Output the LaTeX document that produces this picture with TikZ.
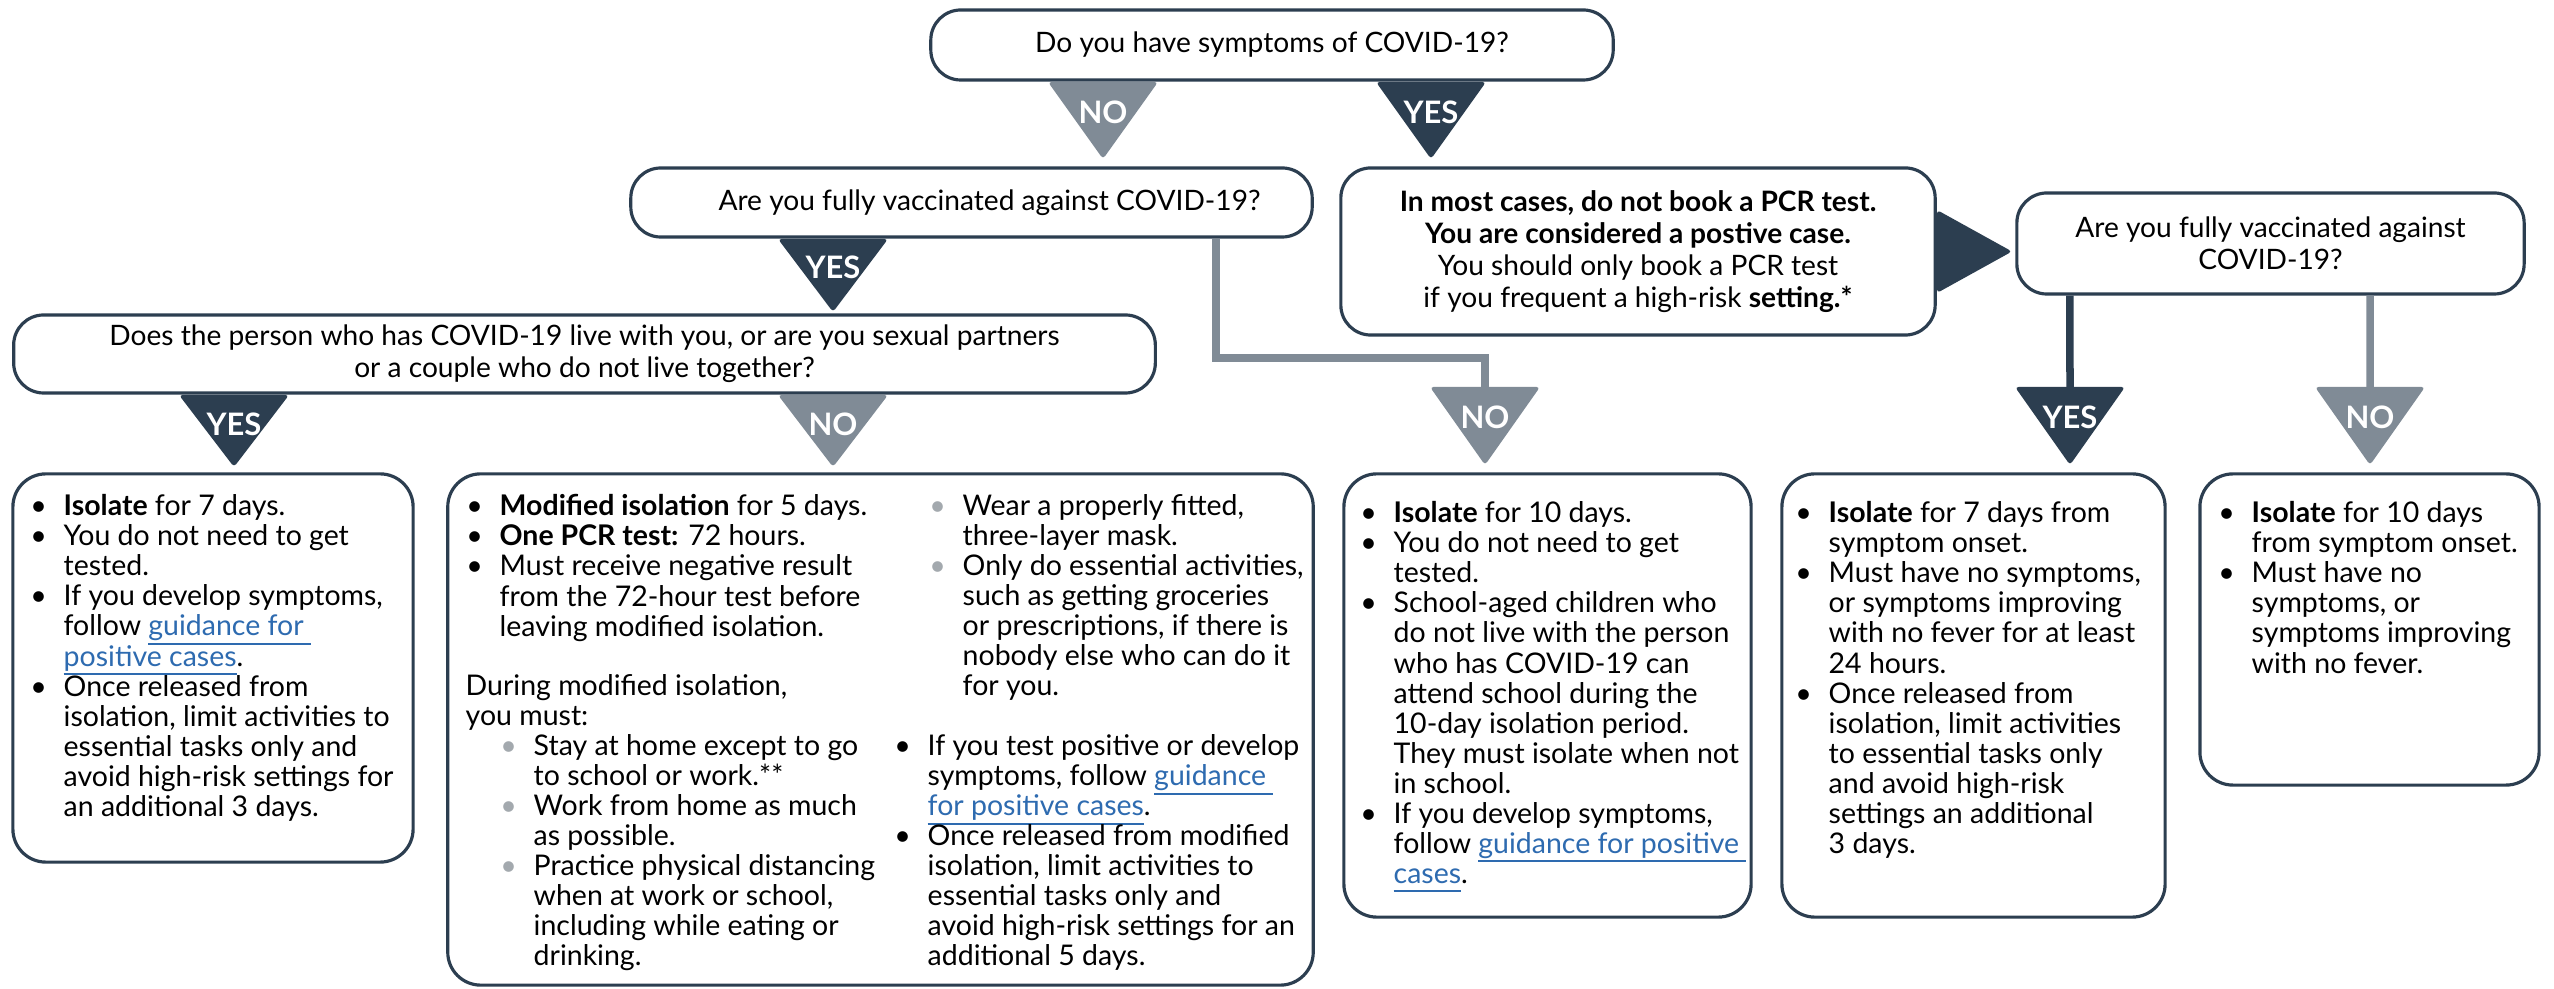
\documentclass[tikz,border=0pt]{standalone}
\usepackage{fontspec}
\setmainfont{Lato}
\definecolor{dark}{HTML}{2C3E50}
\definecolor{midgray}{HTML}{808B96}
\definecolor{linkblue}{HTML}{2E6BB0}
\definecolor{bulgray}{HTML}{A3A9AE}
\newcommand{\bul}{\llap{\makebox[0.5cm][c]{\textbullet}}}
\newcommand{\gbul}{\llap{\makebox[0.5cm][c]{\textcolor{bulgray}{\textbullet}}}}
\newcommand{\lnk}[1]{\textcolor{linkblue}{\setbox0\hbox{#1}\rlap{\rule[-0.09cm]{\wd0}{0.02cm}}\box0}}
\newcommand{\fst}{\rule{0pt}{0.21cm}}
\newcommand{\tri}[4]{\fill[#1, rounded corners=0.035cm] (#2-55,#3) -- (#2+55,#3) -- (#2,#4) -- cycle;}
\tikzset{
  qbox/.style={draw=dark, line width=0.9pt, rounded corners=0.3cm, fill=white, inner sep=0pt, align=center, font=\fontsize{8.0}{9.1}\selectfont},
  abox/.style={draw=dark, line width=0.9pt, rounded corners=0.33cm, inner sep=0pt},
  atext/.style={anchor=north west, inner sep=0pt, align=left, font=\fontsize{8.1}{8.54}\selectfont},
  lab/.style={text=white, inner sep=0pt, font=\bfseries\fontsize{8.8}{9}\selectfont},
  gline/.style={draw=midgray, line width=0.075cm, line join=miter},
  dline/.style={draw=dark, line width=0.075cm},
}
\begin{document}
\setlength{\lineskiplimit}{-20pt}
\begin{tikzpicture}[x=0.01cm, y=-0.01cm]
\useasboundingbox[fill=white] (0,0) rectangle (2554,989);

% question boxes
\node[qbox, minimum width=6.82cm, minimum height=0.70cm] (q1) at (1272,45) {Do you have symptoms of COVID-19?};
\node[qbox, minimum width=6.81cm, minimum height=0.69cm] (q2) at (971.5,202.5) {\hspace*{0.36cm}Are you fully vaccinated against COVID-19?};
\node[qbox, minimum width=5.94cm, minimum height=1.67cm] (q3) at (1638,251.5) {\textbf{In most cases, do not book a PCR test.}\\\textbf{You are considered a postive case.}\\You should only book a PCR test\\if you frequent a high-risk \textbf{setting.*}};
\node[qbox, minimum width=5.07cm, minimum height=1.01cm] (q4) at (2270.5,243.5) {Are you fully vaccinated against\\COVID-19?};
\node[qbox, minimum width=11.41cm, minimum height=0.78cm] (q5) at (584.5,354) {Does the person who has COVID-19 live with you, or are you sexual partners\\or a couple who do not live together?};

% answer boxes
\node[abox, minimum width=4.00cm, minimum height=3.88cm] (b1) at (213,668) {};
\node[abox, minimum width=8.65cm, minimum height=5.11cm] (b2) at (880.5,729.5) {};
\node[abox, minimum width=4.07cm, minimum height=4.43cm] (b3) at (1547.5,695.5) {};
\node[abox, minimum width=3.83cm, minimum height=4.43cm] (b4) at (1973.5,695.5) {};
\node[abox, minimum width=3.39cm, minimum height=3.11cm] (b5) at (2369.5,629.5) {};

\node[atext] (b1t) at (63,494) {\fst\bul\textbf{Isolate} for 7 days.\\
\bul You do not need to get\\
tested.\\
\bul If you develop symptoms,\\
follow \lnk{guidance for\ }\\
\lnk{positive cases}.\\
\bul Once released from\\
isolation, limit activities to\\
essential tasks only and\\
avoid high-risk settings for\\
an additional 3 days.};

\node[atext] (b2a) at (499,494) {\fst\bul\textbf{Modified isolation} for 5 days.\\
\bul\textbf{One PCR test:} 72 hours.\\
\bul Must receive negative result\\
from the 72-hour test before\\
leaving modified isolation.};
\node[atext] (b2b) at (465,674) {\fst During modified isolation,\\
you must:};
\node[atext] (b2c) at (533,734) {\fst\gbul Stay at home except to go\\
to school or work.**\\
\gbul Work from home as much\\
as possible.\\
\gbul Practice physical distancing\\
when at work or school,\\
including while eating or\\
drinking.};
\node[atext] (b2d) at (962,494) {\fst\gbul Wear a properly fitted,\\
three-layer mask.\\
\gbul Only do essential activities,\\
such as getting groceries\\
or prescriptions, if there is\\
nobody else who can do it\\
for you.};
\node[atext] (b2e) at (927,734) {\fst\bul If you test positive or develop\\
symptoms, follow \lnk{guidance\ }\\
\lnk{for positive cases}.\\
\bul Once released from modified\\
isolation, limit activities to\\
essential tasks only and\\
avoid high-risk settings for an\\
additional 5 days.};

\node[atext] (b3t) at (1393,501) {\fst\bul\textbf{Isolate} for 10 days.\\
\bul You do not need to get\\
tested.\\
\bul School-aged children who\\
do not live with the person\\
who has COVID-19 can\\
attend school during the\\
10-day isolation period.\\
They must isolate when not\\
in school.\\
\bul If you develop symptoms,\\
follow \lnk{guidance for positive\ }\\
\lnk{cases}.};

\node[atext] (b4t) at (1828,501) {\fst\bul\textbf{Isolate} for 7 days from\\
symptom onset.\\
\bul Must have no symptoms,\\
or symptoms improving\\
with no fever for at least\\
24 hours.\\
\bul Once released from\\
isolation, limit activities\\
to essential tasks only\\
and avoid high-risk\\
settings an additional\\
3 days.};

\node[atext] (b5t) at (2251,501) {\fst\bul\textbf{Isolate} for 10 days\\
from symptom onset.\\
\bul Must have no\\
symptoms, or\\
symptoms improving\\
with no fever.};

% connectors
\coordinate (t6top) at (1485,390);
\coordinate (t7top) at (2070,390);
\coordinate (t8top) at (2370,390);
\draw[gline] ([xshift=2.445cm]q2.south) |- (1485,358) -- (t6top);
\draw[dline] ([xshift=-2.005cm]q4.south) -- (t7top);
\draw[gline] ([xshift=0.995cm]q4.south) -- (t8top);

% triangles
\tri{midgray}{1103}{82}{159}
\tri{dark}{1431}{82}{159}
\tri{dark}{833}{239}{312}
\tri{dark}{234}{395}{467}
\tri{midgray}{833}{395}{467}
\tri{midgray}{1485}{387}{465}
\tri{dark}{2070}{387}{465}
\tri{midgray}{2370}{387}{465}
\fill[dark, rounded corners=0.035cm] (1937,210) -- (2012,251.5) -- (1937,293) -- cycle;

\node[lab] (l1) at (1103,112) {NO};
\node[lab] (l2) at (1431,112) {YES};
\node[lab] (l3) at (833,267) {YES};
\node[lab] (l4) at (234,424) {YES};
\node[lab] (l5) at (833,424) {NO};
\node[lab] (l6) at (1485,417) {NO};
\node[lab] (l7) at (2070,417) {YES};
\node[lab] (l8) at (2370,417) {NO};
\end{tikzpicture}
\end{document}
